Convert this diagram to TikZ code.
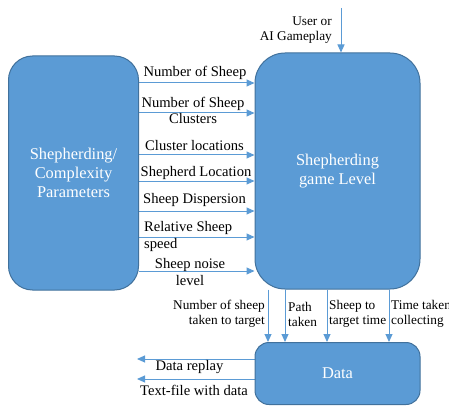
\documentclass[tikz,border=0pt]{standalone}
\usepackage{fontspec}
\setmainfont{Liberation Serif}
\usetikzlibrary{arrows.meta}
\definecolor{boxfill}{HTML}{5B9BD5}
\definecolor{boxline}{HTML}{41719C}
\begin{document}
\begin{tikzpicture}[x=1pt,y=-1pt,
 box/.style={draw=boxline, line width=1pt, fill=boxfill, text=white, font=\rmfamily\fontsize{16.4}{19}\selectfont, align=center},
 arr/.style={draw=boxfill, line width=1pt, -{Triangle[length=8pt,width=7pt]}},
 lab/.style={font=\rmfamily\fontsize{14.6}{16.5}\selectfont, inner sep=0pt, anchor=base},
 slab/.style={font=\rmfamily\fontsize{13.3}{15}\selectfont, inner sep=0pt, anchor=base}]
\useasboundingbox (0,0) rectangle (449,406);
% node positions (boxes drawn later on top)
\path[box, draw=none, fill=none] node[minimum width=130pt, minimum height=234pt] (L) at (73.5,173) {}
  node[minimum width=165pt, minimum height=236pt] (R) at (337.5,171) {}
  node[minimum width=165pt, minimum height=62pt] (D) at (337.5,373.5) {};
\coordinate (u) at (341,8);
\coordinate (o1) at (137,359);
\coordinate (o2) at (137,379);
% arrows
\draw[arr] (u) -- (u |- R.north);
\foreach \y in {83,113,155,181,211,237,271}{
  \draw[arr] (L.east |- 0,\y) -- (R.west |- 0,\y);
}
\foreach \x in {268,285,327,389}{
  \draw[arr] (R.south -| \x,0) -- (D.north -| \x,0);
}
\draw[arr] (D.west |- o1) -- (o1);
\draw[arr] (D.west |- o2) -- (o2);
% boxes
\node[box, rounded corners=24pt, minimum width=130pt, minimum height=234pt] at (L) {Shepherding/\\Complexity\\Parameters};
\node[box, rounded corners=30pt, minimum width=165pt, minimum height=236pt] at (R) {Shepherding\\game Level};
\node[box, rounded corners=14pt, minimum width=165pt, minimum height=62pt] at (D) {Data};
% labels (multi-line: anchor at last line's baseline)
\node[slab, align=right, anchor=base east] at (332,41) {User or\\AI Gameplay};
\node[lab] at (195,77) {Number of Sheep};
\node[lab, align=center] at (193,124) {Number of Sheep\\Clusters};
\node[lab] at (194.5,150) {Cluster locations};
\node[lab] at (196,176) {Shepherd Location};
\node[lab] at (194.5,203) {Sheep Dispersion};
\node[lab, align=left, anchor=base west] at (144,248) {Relative Sheep\\speed};
\node[lab, align=center] at (190,285) {Sheep noise\\level};
\node[slab, align=right, anchor=base east] at (265,324) {Number of sheep\\taken to target};
\node[slab, align=left, anchor=base west] at (288,326) {Path\\taken};
\node[slab, align=left, anchor=base west] at (329,324) {Sheep to\\target time};
\node[slab, align=left, anchor=base west] at (391,324) {Time taken\\collecting};
\node[lab] at (189.5,370) {Data replay};
\node[lab] at (194,395) {Text-file with data};
\end{tikzpicture}
\end{document}
